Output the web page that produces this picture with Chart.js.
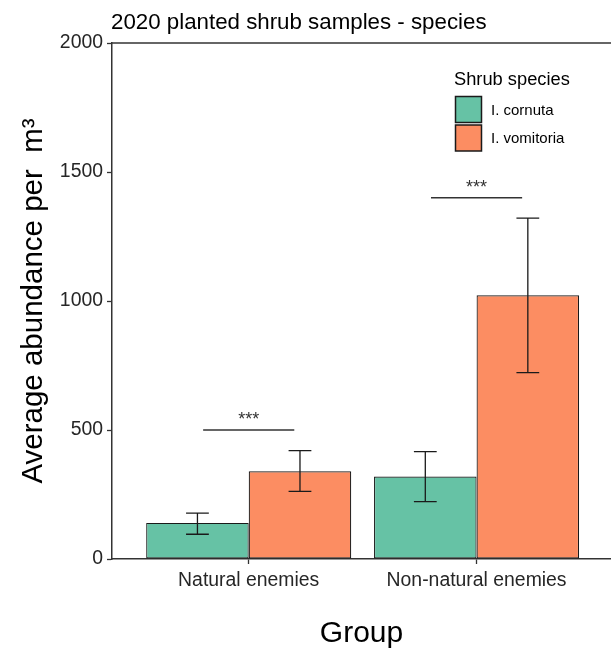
<!DOCTYPE html>
<html>
<head>
<meta charset="utf-8">
<title>2020 planted shrub samples - species</title>
<script src="https://cdn.jsdelivr.net/npm/chart.js@4.4.1/dist/chart.umd.min.js"></script>
<style>
    html, body { margin: 0; padding: 0; background: #fff; }
    #wrap { width: 611px; height: 652px; }
</style>
</head>
<body>
<div id="wrap"><canvas id="myChart" width="611" height="652"></canvas></div>
<script>
// Datos
const groups = ["Natural enemies", "Non-natural enemies"];
const species = ["I. cornuta", "I. vomitoria"];
const cornutaMean = [140, 320];
const vomitoriaMean = [340, 1022];
const cornutaLow = [96, 222];
const cornutaHigh = [178, 416];
const vomitoriaLow = [262, 722];
const vomitoriaHigh = [420, 1321];
const yTicks = [0, 500, 1000, 1500, 2000];
const sigLevel = [500, 1400];
const sigLabel = ["***", "***"];

const colors = ["#66C2A5", "#FC8D62"];
const FONT = "'Liberation Sans', Arial, sans-serif";

const means = [cornutaMean, vomitoriaMean];
const lows = [cornutaLow, vomitoriaLow];
const highs = [cornutaHigh, vomitoriaHigh];

// Barras de error, líneas de significancia, título y leyenda
const decorPlugin = {
    id: "decor",
    afterDatasetsDraw(chart) {
        const ctx = chart.ctx;
        const area = chart.chartArea;
        const xs = chart.scales.x;
        const ys = chart.scales.y;
        ctx.save();

        // borde superior del panel
        ctx.strokeStyle = "#333";
        ctx.lineWidth = 1.5;
        ctx.beginPath();
        ctx.moveTo(area.left, area.top);
        ctx.lineTo(area.right, area.top);
        ctx.stroke();

        // barras de error
        const capHalf = xs.getPixelForValue(1.05) - xs.getPixelForValue(1);
        ctx.strokeStyle = "#1a1a1a";
        ctx.lineWidth = 1.3;
        means.forEach((m, i) => {
            const meta = chart.getDatasetMeta(i);
            meta.data.forEach((bar, j) => {
                const yl = ys.getPixelForValue(lows[i][j]);
                const yh = ys.getPixelForValue(highs[i][j]);
                ctx.beginPath();
                ctx.moveTo(bar.x, yl);
                ctx.lineTo(bar.x, yh);
                ctx.moveTo(bar.x - capHalf, yl);
                ctx.lineTo(bar.x + capHalf, yl);
                ctx.moveTo(bar.x - capHalf, yh);
                ctx.lineTo(bar.x + capHalf, yh);
                ctx.stroke();
            });
        });

        // significancia
        ctx.strokeStyle = "#333";
        ctx.lineWidth = 1.5;
        ctx.fillStyle = "#333";
        ctx.font = "18px " + FONT;
        ctx.textAlign = "center";
        ctx.textBaseline = "alphabetic";
        sigLevel.forEach((v, k) => {
            const y = ys.getPixelForValue(v);
            const x1 = xs.getPixelForValue(k + 1 - 0.2);
            const x2 = xs.getPixelForValue(k + 1 + 0.2);
            ctx.beginPath();
            ctx.moveTo(x1, y);
            ctx.lineTo(x2, y);
            ctx.stroke();
            ctx.fillText(sigLabel[k], (x1 + x2) / 2, y - 5);
        });

        // título
        ctx.fillStyle = "#000";
        ctx.textAlign = "left";
        ctx.font = "22.3px " + FONT;
        ctx.fillText("2020 planted shrub samples - species", 111, 29);

        // leyenda
        ctx.font = "18.3px " + FONT;
        ctx.fillText("Shrub species", 454, 85);
        ctx.font = "15px " + FONT;
        ctx.textBaseline = "middle";
        const boxY = [96.5, 125];
        species.forEach((s, i) => {
            ctx.fillStyle = colors[i];
            ctx.fillRect(455.5, boxY[i], 26, 26);
            ctx.strokeStyle = "#1a1a1a";
            ctx.lineWidth = 1.5;
            ctx.strokeRect(455.5, boxY[i], 26, 26);
            ctx.fillStyle = "#000";
            ctx.fillText(s, 491, boxY[i] + 14);
        });
        ctx.restore();
    }
};

const ctx = document.getElementById("myChart").getContext("2d");
const myChart = new Chart(ctx, {
    type: "bar",
    data: {
        datasets: species.map((s, i) => ({
            label: s,
            data: means[i].map((v, j) => ({ x: j + 1, y: v })),
            backgroundColor: colors[i],
            borderColor: "#1a1a1a",
            borderWidth: 1.2,
            borderSkipped: false,
            categoryPercentage: 0.9,
            barPercentage: 1.0
        }))
    },
    options: {
        responsive: false,
        devicePixelRatio: 1,
        animation: false,
        layout: { padding: { top: 43, left: 0, right: 0, bottom: 0 } },
        plugins: {
            legend: { display: false },
            title: { display: false },
            tooltip: { enabled: false }
        },
        scales: {
            x: {
                type: "linear",
                min: 0.4,
                max: 2.59,
                offset: false,
                grid: { display: true, offset: false, drawOnChartArea: false, tickLength: 5, tickColor: "#333", tickWidth: 1.3 },
                border: { display: true, color: "#333", width: 1.5 },
                ticks: {
                    stepSize: 1,
                    autoSkip: false,
                    maxRotation: 0,
                    padding: 5,
                    color: "#262626",
                    font: { family: FONT, size: 19.4 },
                    callback: (v) => groups[Math.round(v) - 1]
                },
                afterBuildTicks: (scale) => {
                    scale.ticks = groups.map((g, i) => ({ value: i + 1 }));
                },
                afterFit: (scale) => { scale.height = 93; },
                title: {
                    display: true,
                    text: "Group",
                    color: "#000",
                    font: { family: FONT, size: 30 },
                    padding: { top: 0, bottom: 0 }
                }
            },
            y: {
                min: 0,
                max: 2000,
                grid: { display: true, drawOnChartArea: false, tickLength: 5, tickColor: "#333", tickWidth: 1.3 },
                border: { display: true, color: "#333", width: 1.5 },
                ticks: {
                    padding: 4,
                    color: "#262626",
                    font: { family: FONT, size: 19.4 },
                    callback: (v) => String(v)
                },
                afterBuildTicks: (scale) => {
                    scale.ticks = yTicks.map(v => ({ value: v }));
                },
                afterFit: (scale) => { scale.width = 112; },
                title: {
                    display: true,
                    text: "Average abundance per  m³",
                    color: "#000",
                    font: { family: FONT, size: 29.5 },
                    padding: { top: 16, bottom: 0 }
                }
            }
        }
    },
    plugins: [decorPlugin]
});
</script>
</body>
</html>
